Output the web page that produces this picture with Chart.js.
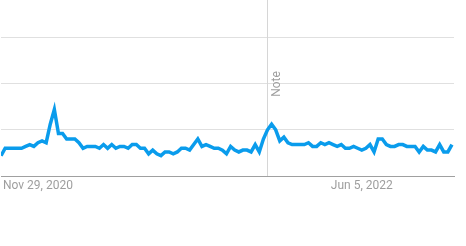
<!DOCTYPE html>
<html>
<head>
<meta charset="utf-8">
<script src="https://cdn.jsdelivr.net/npm/chart.js@4/dist/chart.umd.min.js"></script>
<style>
    body { margin: 0; background: #fff; }
    #wrap { width: 466px; height: 246px; }
</style>
</head>
<body>
<div id="wrap"><canvas id="trend-chart" width="466" height="246"></canvas></div>
<script>
// weekly interest, first week = Sep 27, 2020
const firstWeek = '2020-09-27';
const interest = [
    11, 15, 15, 15, 15, 15, 16, 17, 16, 18,
    19, 18, 28, 36, 23, 23, 20, 20, 20, 18,
    15, 16, 16, 16, 15, 17, 15, 17, 15, 16,
    16, 15, 17, 17, 15, 15, 12, 14, 12, 11,
    13, 13, 12, 13, 15, 15, 14, 17, 20, 16,
    17, 16, 15, 15, 14, 12, 16, 14, 13, 14,
    14, 13, 17, 13, 20, 25, 28, 25, 19, 21,
    18, 17, 17, 17, 17, 18, 16, 16, 18, 17,
    18, 17, 16, 17, 15, 15, 16, 15, 14, 15,
    17, 13, 20, 20, 17, 16, 16, 17, 17, 16,
    16, 16, 13, 16, 14, 14, 13, 17, 13, 13,
    17
];
const tickLabels = ['Nov 29, 2020', 'Jun 5, 2022'];
const gridValues = [25, 50, 75];
const noteText = 'Note';
const noteWeek = 'Dec 26, 2021';

const monthNames = ['Jan', 'Feb', 'Mar', 'Apr', 'May', 'Jun', 'Jul', 'Aug', 'Sep', 'Oct', 'Nov', 'Dec'];

function weekLabel(i) {
    const d = new Date(firstWeek + 'T00:00:00Z');
    d.setUTCDate(d.getUTCDate() + i * 7);
    return `${monthNames[d.getUTCMonth()]} ${d.getUTCDate()}, ${d.getUTCFullYear()}`;
}

const weeks = interest.map((v, i) => weekLabel(i));

const notePlugin = {
    id: 'noteLine',
    beforeDatasetsDraw(chart) {
        const { ctx, chartArea, scales } = chart;
        const x = Math.round(scales.x.getPixelForValue(weeks.indexOf(noteWeek))) + 0.5;
        ctx.save();
        ctx.strokeStyle = '#d6d6d6';
        ctx.lineWidth = 1;
        ctx.beginPath();
        ctx.moveTo(x, chartArea.top);
        ctx.lineTo(x, chartArea.bottom);
        ctx.stroke();
        ctx.translate(x + 9, chartArea.top + 84);
        ctx.rotate(-Math.PI / 2);
        ctx.fillStyle = '#9e9e9e';
        ctx.font = '12px Roboto';
        ctx.textAlign = 'center';
        ctx.textBaseline = 'middle';
        ctx.fillText(noteText, 0, 0);
        ctx.restore();
    }
};

const ctx = document.getElementById('trend-chart').getContext('2d');
new Chart(ctx, {
    type: 'line',
    data: {
        datasets: [{
            label: 'Interest',
            data: interest.map((v, i) => ({ x: i, y: v })),
            borderColor: '#0a9cec',
            borderWidth: 3.5,
            pointRadius: 0,
            tension: 0,
            fill: false
        }]
    },
    options: {
        responsive: false,
        animation: false,
        events: [],
        layout: { padding: { left: 0, right: 12, top: 0, bottom: 0 } },
        plugins: {
            legend: { display: false },
            tooltip: { enabled: false }
        },
        scales: {
            x: {
                type: 'linear',
                min: 0,
                max: 110.5,
                grid: { display: false, drawTicks: false },
                border: { display: true, color: '#a0a0a0', width: 1 },
                afterBuildTicks: s => { s.ticks = tickLabels.map(l => ({ value: weeks.indexOf(l) })); },
                afterFit: s => { s.height = 70; },
                ticks: {
                    autoSkip: false,
                    maxRotation: 0,
                    padding: 3,
                    color: '#9e9e9e',
                    font: { family: 'Roboto', size: 12 },
                    callback: v => weeks[v]
                }
            },
            y: {
                min: 0,
                max: 95.2,
                grid: { color: '#e0e0e0', lineWidth: 1, drawTicks: false },
                border: { display: false },
                afterBuildTicks: s => { s.ticks = gridValues.map(v => ({ value: v })); },
                afterFit: s => { s.width = 0; },
                ticks: { display: false }
            }
        }
    },
    plugins: [notePlugin]
});
</script>
</body>
</html>
